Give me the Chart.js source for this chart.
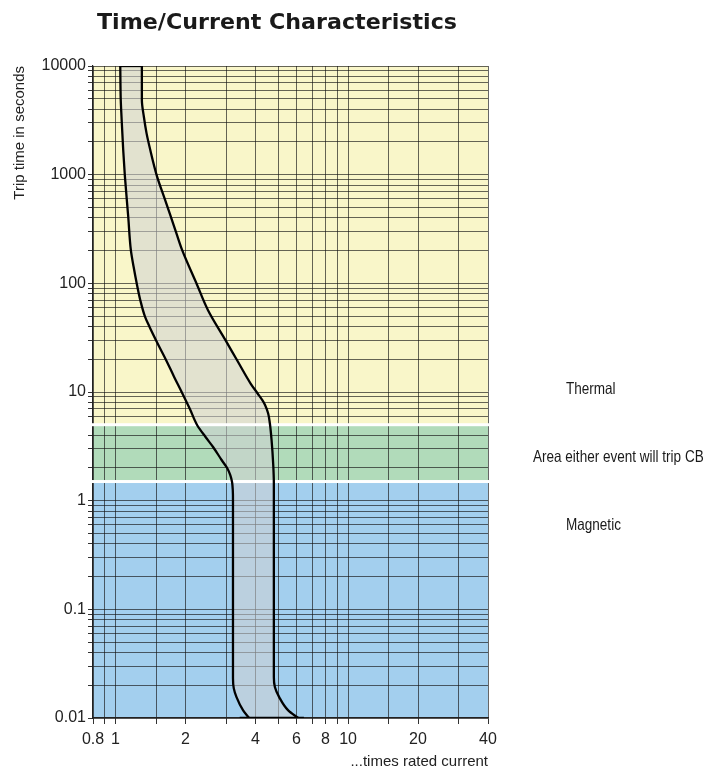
<!DOCTYPE html>
<html><head><meta charset="utf-8">
<script src="https://cdn.jsdelivr.net/npm/chart.js@4.4.1/dist/chart.umd.min.js"></script>
<style>html,body{margin:0;padding:0;background:#fff;}#wrap{width:707px;height:769px;position:relative;}</style>
</head><body><div id="wrap"><canvas id="c" width="707" height="769"></canvas></div>
<script>
// ---- text ----
const chartTitle = 'Time/Current Characteristics';
const xAxisTitle = '...times rated current';
const yAxisTitle = 'Trip time in seconds';

// ---- axes / ticks ----
const xTickLabels = [0.8, 1, 2, 4, 6, 8, 10, 20, 40];
const xGridValues = [0.8, 0.9, 1, 1.5, 2, 3, 4, 5, 6, 7, 8, 9, 10, 15, 20, 30, 40];
const yDecades = [0.01, 0.1, 1, 10, 100, 1000, 10000];
const yMinorSteps = [1, 2, 3, 4, 5, 6, 7, 8, 9];

// ---- curves: multiple of rated current (x) vs trip time in s (y) ----
const leftCurveX = [1.048, 1.053, 1.061, 1.079, 1.097, 1.134, 1.164, 1.196, 1.236, 1.278, 1.340, 1.401, 1.517, 1.651, 1.787, 1.925, 2.084, 2.246, 2.443, 2.632, 2.864, 3.025, 3.116, 3.172, 3.194, 3.200, 3.200, 3.226, 3.314, 3.538, 3.755];
const leftCurveY = [10000, 4864, 3413, 1685, 971, 410, 202, 141.9, 97.7, 70.0, 49.1, 39.7, 27.96, 19.62, 13.77, 10.02, 7.05, 4.945, 3.835, 3.102, 2.355, 1.988, 1.714, 1.477, 1.247, 1.009, 0.02316, 0.01874, 0.01557, 0.01175, 0.01];
const rightCurveX = [1.298, 1.298, 1.324, 1.360, 1.411, 1.507, 1.635, 1.729, 1.828, 1.935, 2.230, 2.499, 2.971, 3.333, 3.811, 4.085, 4.280, 4.401, 4.535, 4.612, 4.690, 4.764, 4.797, 4.797, 4.845, 5.057, 5.530, 6.107];
const rightCurveY = [10000, 4864, 3413, 2400, 1685, 971, 583, 410, 288, 202, 99.8, 56.6, 30.0, 19.6, 11.97, 9.69, 8.40, 7.56, 6.34, 5.13, 3.60, 2.20, 1.45, 0.0237, 0.0193, 0.01557, 0.01175, 0.01];
const topCapX = [1.048, 1.298];
const topCapY = [10000, 10000];
const bottomCapX = [3.42, 6.46];
const bottomCapY = [0.01, 0.01];

// ---- background zones (trip time limits, s) ----
const bandNames = ['Magnetic', 'Area either event will trip CB', 'Thermal'];
const bandFrom = [0.01, 1.5, 5];
const bandTo = [1.5, 5, 10000];

// ---- styles ----
const bandColors = ['#a3cfee', '#b1dbba', '#f9f6c9'];
const bandLabelPos = [{x: 566, y: 530}, {x: 533, y: 462}, {x: 566, y: 394}];
const FONT = "'Liberation Sans', Arial, Helvetica, sans-serif";

const yGridValues = [];
yDecades.forEach((d, i) => {
  if (i === yDecades.length - 1) { yGridValues.push(d); return; }
  yMinorSteps.forEach(m => yGridValues.push(Number((d * m).toPrecision(6))));
});

const toPts = (xs, ys) => xs.map((x, i) => ({x: x, y: ys[i]}));
const leftPts = toPts(leftCurveX, leftCurveY);
const rightPts = toPts(rightCurveX, rightCurveY);
const shapePts = [...leftPts, ...rightPts.slice().reverse()];

const zonePlugin = {
  id: 'zones',
  beforeDraw(chart) {
    const {ctx, chartArea: a, scales: {y}} = chart;
    ctx.save();
    for (let i = 0; i < bandFrom.length; i++) {
      const t = y.getPixelForValue(bandTo[i]);
      const b = y.getPixelForValue(bandFrom[i]);
      ctx.fillStyle = bandColors[i];
      ctx.fillRect(a.left, t, a.right - a.left, b - t);
    }
    ctx.restore();
  },
  afterDatasetDraw(chart, args) {
    if (args.index !== 0) return;
    const {ctx, chartArea: a, scales: {y}} = chart;
    ctx.save();
    ctx.fillStyle = '#ffffff';
    for (let i = 1; i < bandFrom.length; i++) {
      const p = y.getPixelForValue(bandFrom[i]);
      ctx.fillRect(a.left - 6, p - 1.5, a.right - a.left + 7, 3);
    }
    ctx.restore();
  },
  afterDraw(chart) {
    const {ctx} = chart;
    ctx.save();
    ctx.fillStyle = '#1a1a1a';
    ctx.textBaseline = 'alphabetic';
    ctx.textAlign = 'left';
    ctx.font = "bold 22px 'DejaVu Sans', sans-serif";
    const w = ctx.measureText(chartTitle).width;
    ctx.save();
    ctx.translate(97, 28.5);
    ctx.scale(360 / w, 1);
    ctx.fillText(chartTitle, 0, 0);
    ctx.restore();
    ctx.font = "16.5px " + FONT;
    bandNames.forEach((n, i) => {
      ctx.save();
      ctx.translate(bandLabelPos[i].x, bandLabelPos[i].y);
      ctx.scale(0.82, 1);
      ctx.fillText(n, 0, 0);
      ctx.restore();
    });
    ctx.restore();
  }
};

const gridColor = 'rgba(20,20,20,0.65)';
const isIn = (arr, v) => arr.some(a => Math.abs(a - v) / a < 1e-6);
const curveStyle = {fill: false, borderColor: '#000', borderWidth: 2.3, pointRadius: 0,
                    indexAxis: 'y', cubicInterpolationMode: 'monotone', order: 1};

new Chart(document.getElementById('c'), {
  type: 'line',
  data: {
    datasets: [
      {label: 'band', data: shapePts, fill: 'shape', backgroundColor: 'rgba(208,209,212,0.55)',
       borderColor: 'transparent', borderWidth: 0, pointRadius: 0,
       indexAxis: 'y', cubicInterpolationMode: 'monotone', order: 3},
      Object.assign({label: 'min', data: leftPts}, curveStyle),
      Object.assign({label: 'max', data: rightPts}, curveStyle),
      {label: 'top', data: toPts(topCapX, topCapY), fill: false, borderColor: '#000', borderWidth: 2.3, pointRadius: 0, order: 1},
      {label: 'bottom', data: toPts(bottomCapX, bottomCapY), fill: false, borderColor: '#000', borderWidth: 2.3, pointRadius: 0, order: 1}
    ]
  },
  options: {
    responsive: false,
    animation: false,
    events: [],
    layout: {padding: {top: 66, right: 219, left: 0, bottom: 0}},
    plugins: {legend: {display: false}, tooltip: {enabled: false}, title: {display: false}},
    scales: {
      x: {
        type: 'logarithmic', min: 0.8, max: 40,
        afterBuildTicks: s => { s.ticks = xGridValues.map(v => ({value: v})); },
        afterFit: s => { s.height = 51; },
        ticks: {autoSkip: false, maxRotation: 0, padding: 6, color: '#222', font: {family: FONT, size: 16},
                callback: v => isIn(xTickLabels, v) ? String(v) : ''},
        grid: {color: gridColor, lineWidth: 1, tickLength: 6, tickColor: '#333'},
        border: {display: true, color: '#222', width: 1.2},
        title: {display: true, text: xAxisTitle, align: 'end', color: '#222', font: {family: FONT, size: 15, lineHeight: 1}, padding: {top: 0, bottom: 0}}
      },
      y: {
        type: 'logarithmic', min: 0.01, max: 10000,
        afterBuildTicks: s => { s.ticks = yGridValues.map(v => ({value: v})); },
        afterFit: s => { s.width = 93; },
        ticks: {autoSkip: false, padding: 2, color: '#222', font: {family: FONT, size: 16},
                callback: v => isIn(yDecades, v) ? String(v) : ''},
        grid: {color: gridColor, lineWidth: 1, tickLength: 5, tickColor: '#333'},
        border: {display: true, color: '#222', width: 1.2},
        title: {display: true, text: yAxisTitle, align: 'end', color: '#222', font: {family: FONT, size: 15, lineHeight: 1.2}, padding: {top: 11, bottom: 0}}
      }
    }
  },
  plugins: [zonePlugin]
});
</script></body></html>
